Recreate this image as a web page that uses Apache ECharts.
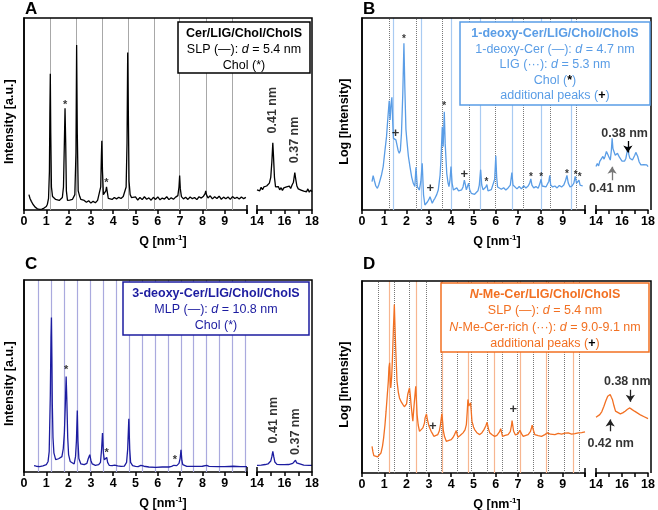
<!DOCTYPE html>
<html><head><meta charset="utf-8">
<script src="https://cdn.jsdelivr.net/npm/echarts/dist/echarts.min.js"></script>
<style>html,body{margin:0;padding:0;background:#fff}#c{width:658px;height:510px}</style>
</head><body><div id="c"></div><script>
const FONT = 'Liberation Sans, Arial, sans-serif';
const mainTicks = [0,1,2,3,4,5,6,7,8,9];
const insetTicks = [14,16,18];

// ---------- Panel A ----------
const traceA = [[0.22,8],[0.27,6],[0.33,4.5],[0.4,3],[0.5,1.5],[0.6,0.6],[0.7,0.3],[0.8,0.5],[0.9,1],[1.0,1.8],[1.05,3],[1.1,6],[1.14,20],[1.16,50],[1.18,71],[1.2,40],[1.23,12],[1.28,7],[1.35,6.5],[1.42,5.5],[1.5,6.2],[1.58,5],[1.65,5.5],[1.72,6.5],[1.77,12],[1.81,35],[1.84,53],[1.87,35],[1.9,10],[1.95,5],[2.0,4],[2.05,5.2],[2.1,4.2],[2.17,5.5],[2.22,6],[2.28,8],[2.33,30],[2.36,86],[2.39,40],[2.43,10],[2.5,7],[2.55,5.5],[2.6,4.5],[2.7,5],[2.8,4],[2.9,4.8],[3.0,3.6],[3.1,4.5],[3.2,3.8],[3.3,5],[3.38,6],[3.44,12],[3.47,28],[3.49,36],[3.52,20],[3.56,8],[3.62,8],[3.67,10],[3.7,12],[3.74,9],[3.78,6],[3.85,5],[3.95,5.5],[4.05,6.5],[4.15,5.8],[4.25,6.6],[4.35,6],[4.45,7],[4.52,8],[4.58,12],[4.62,35],[4.65,82],[4.68,50],[4.71,15],[4.76,8],[4.82,6.5],[4.9,5.5],[5.0,6.8],[5.1,5.2],[5.2,6.5],[5.3,5.4],[5.4,6.9],[5.5,5.6],[5.6,6.3],[5.7,5.1],[5.8,6.6],[5.9,5.5],[6.0,6.8],[6.1,5.3],[6.2,6.2],[6.3,5.7],[6.4,6.9],[6.5,5.4],[6.6,6.4],[6.7,5.6],[6.8,6.7],[6.9,7.5],[6.95,12],[6.98,18],[7.01,11],[7.06,7],[7.15,5.8],[7.25,6.6],[7.35,5.5],[7.45,6.8],[7.55,5.9],[7.65,6.5],[7.75,5.4],[7.85,6.9],[7.95,6.2],[8.05,7.2],[8.12,8.5],[8.15,10],[8.18,8],[8.25,6.3],[8.35,7.4],[8.45,5.8],[8.55,6.9],[8.65,6],[8.75,7.2],[8.85,5.6],[8.95,6.7],[9.05,5.9],[9.15,6.8],[9.25,5.5],[9.35,7],[9.45,6],[9.55,6.6],[9.65,5.7],[9.75,6.8],[9.85,5.9],[9.95,6.6]];
const insetA = [[14,10.5],[14.1,11.5],[14.2,10],[14.3,11.8],[14.4,10.6],[14.5,12],[14.6,11],[14.7,12.5],[14.8,12],[14.9,14],[15.0,17],[15.08,25],[15.15,35],[15.2,28],[15.27,17],[15.35,12],[15.45,11],[15.55,12.2],[15.65,10.5],[15.75,11.6],[15.85,10.2],[15.95,11.5],[16.05,10.8],[16.15,12],[16.25,11],[16.35,12.4],[16.45,11.2],[16.55,13],[16.65,14.5],[16.75,19.5],[16.82,16],[16.9,12.5],[17.0,11],[17.1,12],[17.2,10.4],[17.3,11.4],[17.4,9.8],[17.5,10.8],[17.6,9.5],[17.7,11],[17.8,9.3],[17.9,10.4],[18.0,9.5]];
const slpLinesA = [1.17,2.34,3.49,4.66,5.82,6.98,8.16,9.33];
const starsA = [[1.84,56],[3.70,15]];
const rotLabelsA = [[15.13,52,'0.41 nm'],[16.75,36.5,'0.37 nm']];

// ---------- Panel B ----------
const traceB = [[0.45,14.8],[0.5,17.9],[0.55,15.5],[0.62,12.5],[0.69,11.3],[0.75,13],[0.8,15.1],[0.88,18.5],[0.95,22.6],[1.02,30],[1.1,38.2],[1.16,48],[1.22,56.9],[1.26,46.9],[1.3,55],[1.34,58.7],[1.38,45],[1.41,37.3],[1.47,38.2],[1.52,36.5],[1.56,35.6],[1.62,31],[1.67,29.5],[1.72,31],[1.77,40],[1.83,60.8],[1.88,86.8],[1.92,64.2],[1.97,42],[2.01,36.5],[2.08,28],[2.15,22.6],[2.23,17],[2.3,13.9],[2.37,12.2],[2.42,22.2],[2.48,12.2],[2.57,10.4],[2.64,15],[2.7,24.3],[2.76,7.8],[2.82,2.6],[2.88,3.5],[2.94,4.3],[3.0,5.5],[3.05,6.9],[3.1,5.2],[3.15,3.5],[3.21,5],[3.27,6.1],[3.35,8],[3.42,10.4],[3.5,18],[3.54,26],[3.6,43.4],[3.64,33],[3.69,51.2],[3.73,34.7],[3.8,19.1],[3.86,14],[3.9,12.2],[3.95,16],[3.99,22.6],[4.04,14],[4.1,10.4],[4.18,9.5],[4.25,11.5],[4.33,10],[4.4,11],[4.47,10.5],[4.53,12],[4.59,15.6],[4.63,13.5],[4.68,10.5],[4.73,11.5],[4.78,14],[4.83,10.5],[4.9,8.7],[4.98,9.5],[5.05,8.2],[5.13,9],[5.2,10],[5.26,13],[5.32,21],[5.37,13],[5.43,10.5],[5.5,10],[5.55,12],[5.6,13.2],[5.65,10],[5.73,9.5],[5.8,10.6],[5.88,11.2],[5.95,16],[6.0,28.3],[6.04,17],[6.08,12],[6.15,11.3],[6.25,10.8],[6.35,11.6],[6.45,10.4],[6.55,11.5],[6.65,13],[6.72,19.5],[6.77,13],[6.85,12],[6.95,11],[7.05,12.2],[7.15,11],[7.25,12.6],[7.35,11.5],[7.45,12.5],[7.52,14],[7.57,16.2],[7.62,13],[7.7,11.5],[7.8,12.2],[7.9,11.3],[7.97,13.5],[8.03,16],[8.08,12.5],[8.15,11.5],[8.25,12],[8.32,12.5],[8.38,15],[8.42,18],[8.46,13],[8.55,12],[8.65,12.5],[8.75,11.5],[8.85,12.8],[8.95,12],[9.05,13],[9.13,15.5],[9.19,18],[9.25,14],[9.33,12],[9.42,12.5],[9.5,14],[9.56,17.5],[9.62,14],[9.68,13],[9.73,15.5],[9.78,13],[9.85,12],[9.9,12.5]];
const insetB = [[14,22.6],[14.1,24.2],[14.2,23],[14.29,25.3],[14.4,24.5],[14.53,27.9],[14.62,26.5],[14.7,28],[14.8,30.5],[14.9,29],[15.0,27.5],[15.1,26],[15.18,31],[15.24,37.3],[15.3,32],[15.38,30.5],[15.48,28.5],[15.58,28.5],[15.65,29.5],[15.72,29],[15.8,27.5],[15.9,26.5],[16.0,25.5],[16.1,25],[16.2,25.5],[16.3,27],[16.38,30],[16.45,33],[16.52,29],[16.6,27],[16.7,26.5],[16.8,26],[16.9,27],[16.98,28.5],[17.06,30],[17.12,30.4],[17.2,28],[17.32,25],[17.45,23.5],[17.55,24],[17.68,23.6],[17.8,23],[17.9,23.5],[18,22.6]];
const deoxyLinesB = [1.38,2.64,4.0,5.32,6.74,8.06,9.39];
const ligLinesB = [1.22,2.42,3.6,4.8,5.98,7.23,8.42,9.61];
const starsB = [[1.88,90],[3.69,55],[5.58,15.7],[7.58,18],[8.04,18],[9.19,19.6],[9.58,19.3],[9.76,17.9]];
const plusB = [[1.5,40],[3.06,11],[4.59,18.5]];

// ---------- Panel C ----------
const traceC = [[0.45,3.3],[0.55,3.0],[0.7,2.8],[0.85,3.2],[1.0,3.8],[1.08,5.5],[1.13,10.7],[1.18,40],[1.21,70],[1.23,80.4],[1.25,60],[1.27,35],[1.3,18],[1.34,10],[1.42,6.4],[1.5,7],[1.55,6.9],[1.62,6.4],[1.7,8],[1.76,12],[1.81,20.3],[1.85,34],[1.89,49.7],[1.92,38],[1.96,18],[2.0,9],[2.07,5.5],[2.15,4.5],[2.25,4.2],[2.31,8],[2.35,16],[2.39,32],[2.42,16],[2.46,7],[2.55,4.2],[2.7,3.8],[2.82,4.5],[2.88,6.9],[2.95,9],[3.0,6],[3.06,4.2],[3.2,3.5],[3.35,3.8],[3.43,5],[3.48,12],[3.52,20.3],[3.56,10],[3.6,6.4],[3.65,6.5],[3.71,7.6],[3.75,5],[3.82,3.5],[3.95,3.3],[4.07,3.6],[4.13,4.3],[4.2,3.2],[4.35,2.9],[4.5,3.1],[4.6,5],[4.65,12],[4.7,27.7],[4.74,12],[4.78,5],[4.87,3.3],[5.0,2.9],[5.12,2.8],[5.24,3.4],[5.3,4.2],[5.38,3.0],[5.6,2.6],[5.9,2.4],[6.2,2.6],[6.5,2.6],[6.62,2.9],[6.72,3.5],[6.77,3.6],[6.85,3.3],[6.95,4.5],[7.0,7],[7.04,11.6],[7.08,6],[7.12,3.8],[7.3,2.9],[7.6,2.9],[8.0,3.0],[8.19,3.4],[8.3,2.9],[8.7,2.8],[9.0,2.8],[9.39,3.0],[9.7,2.8],[10,2.8]];
const insetC = [[14,3.5],[14.3,3.6],[14.6,3.9],[14.8,4.2],[15.0,5.7],[15.08,8],[15.15,10.7],[15.22,8],[15.3,5.2],[15.45,4],[15.7,3.8],[16.0,3.8],[16.3,3.9],[16.6,4.5],[16.72,5.5],[16.8,6.1],[16.88,4.8],[17.0,3.9],[17.4,3.6],[17.8,3.5],[18,3.5]];
const mlpLinesC = [0.63,1.23,1.81,2.39,2.97,3.55,4.13,4.71,5.29,5.87,6.45,7.03,7.61,8.19,8.77,9.35,9.93];
const starsC = [[1.89,54],[3.71,11],[6.77,7.5]];
const rotLabelsC = [[15.2,27,'0.41 nm'],[16.8,21,'0.37 nm']];

// ---------- Panel D ----------
const traceD = [[0.45,13.9],[0.49,11],[0.53,9],[0.6,8.7],[0.7,8.4],[0.78,9],[0.85,10.4],[0.92,14],[0.97,18.3],[1.03,25],[1.08,32.2],[1.13,40],[1.18,47.8],[1.21,55],[1.24,57.4],[1.27,48],[1.29,44.3],[1.33,50],[1.36,58],[1.41,75.7],[1.45,87.8],[1.48,76],[1.51,65.2],[1.57,47.8],[1.63,42],[1.68,39.1],[1.76,37],[1.83,35.7],[1.9,34.5],[1.95,33.9],[2.0,36],[2.05,40.9],[2.13,44.3],[2.17,40],[2.2,35.7],[2.25,30],[2.28,27],[2.32,33],[2.35,37.4],[2.41,45.2],[2.44,38],[2.47,30.4],[2.52,25],[2.58,21.7],[2.65,22.5],[2.73,23.5],[2.8,26],[2.83,28.7],[2.89,30.8],[2.93,28],[2.95,27],[3.0,24.5],[3.03,23.5],[3.1,21.7],[3.16,20.5],[3.22,19.1],[3.3,19.6],[3.4,20],[3.47,22],[3.52,25.2],[3.58,30.8],[3.62,26],[3.64,22.6],[3.7,19],[3.78,16.5],[3.9,17],[4.0,17.4],[4.08,18.5],[4.15,20],[4.23,22.1],[4.27,20],[4.3,18.6],[4.4,19.5],[4.53,20.9],[4.62,22.5],[4.68,25.2],[4.72,32],[4.75,38.3],[4.79,35],[4.81,34.8],[4.87,36.5],[4.9,32],[4.93,27],[5.0,24],[5.05,22.6],[5.15,21],[5.28,20],[5.38,21],[5.47,22.6],[5.55,24.5],[5.61,26.4],[5.67,23],[5.73,20.9],[5.85,19.8],[5.95,19.1],[6.05,19.6],[6.1,20],[6.17,21.5],[6.22,23.1],[6.26,21],[6.3,19.1],[6.42,19.6],[6.55,20],[6.65,21.5],[6.7,24.5],[6.73,27.3],[6.77,24],[6.8,21.7],[6.88,19.8],[6.93,19.1],[7.0,20.5],[7.08,22.3],[7.15,20.5],[7.23,19.1],[7.35,19.6],[7.45,20],[7.55,21.5],[7.6,23.5],[7.63,24.9],[7.68,22.5],[7.75,20],[7.9,19.5],[8.05,19.1],[8.2,20],[8.32,20.9],[8.45,20.2],[8.65,20],[8.8,20.6],[8.95,20.3],[9.1,20.8],[9.25,20.9],[9.4,20.3],[9.55,20.5],[9.7,20.9],[9.85,21],[10,21.4]];
const insetD = [[14,29],[14.15,29.5],[14.29,30.4],[14.45,32],[14.61,34.8],[14.75,37.5],[14.9,40],[15.0,40.9],[15.09,40.9],[15.18,39.5],[15.26,38.3],[15.38,35],[15.5,32.2],[15.65,31.3],[15.87,30.8],[16.05,31.3],[16.24,32.2],[16.42,33.2],[16.6,33.9],[16.78,33],[16.96,32.2],[17.2,31.2],[17.45,30.1],[17.7,29.3],[18,28.3]];
const slpLinesD = [1.23,2.43,3.6,4.77,5.93,7.1,8.28,9.47];
const richLinesD = [0.73,1.45,2.13,2.87,3.56,4.27,4.92,5.62,6.3,6.98,7.67,8.36,9.05,9.74];
const plusD = [[3.17,24.5],[6.78,33]];

// ---------- layout ----------
const P = [
  {letter:'A', lx:25, ly:9, main:{left:24,top:18,width:223,height:192}, inset:{left:257,width:55}, ytitle:'Intensity [a.u.]', ytx:10, qx:163},
  {letter:'B', lx:363, ly:9, main:{left:362,top:18,width:223,height:192}, inset:{left:596,width:55}, ytitle:'Log [Intensity]', ytx:345, qx:497},
  {letter:'C', lx:25, ly:264, main:{left:24,top:280,width:223,height:192}, inset:{left:257,width:55}, ytitle:'Intensity [a.u.]', ytx:10, qx:163},
  {letter:'D', lx:363, ly:264, main:{left:362,top:281,width:223,height:192}, inset:{left:596,width:55}, ytitle:'Log [Intensity]', ytx:345, qx:497}
];

const grid=[], xAxis=[], yAxis=[], series=[], graphic=[];
P.forEach((p,i)=>{
  const gm=i*2, gi=i*2+1;
  grid.push({left:p.main.left, top:p.main.top, width:p.main.width, height:p.main.height});
  grid.push({left:p.inset.left, top:p.main.top, width:p.inset.width, height:p.main.height});
  const axLine={lineStyle:{color:'#000',width:1.5}};
  const tick={length:4,lineStyle:{color:'#000',width:1.5}};
  const lab=(arr)=>({formatter:v=>arr.includes(v)?String(v):'', color:'#000', fontWeight:'bold', fontSize:12.5, fontFamily:FONT, margin:5, showMinLabel:true, showMaxLabel:true});
  xAxis.push({gridIndex:gm,type:'value',min:0,max:10,interval:1,axisLine:axLine,axisTick:tick,axisLabel:lab(mainTicks),splitLine:{show:false}});
  xAxis.push({gridIndex:gi,type:'value',min:14,max:18,interval:1,axisLine:axLine,axisTick:tick,axisLabel:lab(insetTicks),splitLine:{show:false}});
  yAxis.push({gridIndex:gm,type:'value',min:0,max:100,axisLine:{show:true,lineStyle:{color:'#000',width:1.5}},axisTick:{show:false},axisLabel:{show:false},splitLine:{show:false}});
  yAxis.push({gridIndex:gi,type:'value',min:0,max:100,show:false});
  const b=p.main.top+p.main.height, t=p.main.top, l=p.main.left, r=p.inset.left+p.inset.width, e=p.main.left+p.main.width;
  graphic.push({type:'polyline',shape:{points:[[l,b],[l,t],[r,t],[r,b]]},style:{stroke:'#000',lineWidth:1.5,fill:null},z:50});
  graphic.push({type:'line',shape:{x1:e,y1:b-5,x2:e,y2:b+4},style:{stroke:'#000',lineWidth:1.5},z:50});
  graphic.push({type:'line',shape:{x1:p.inset.left,y1:b-5,x2:p.inset.left,y2:b+4},style:{stroke:'#000',lineWidth:1.5},z:50});
  graphic.push({type:'text',x:p.lx,y:p.ly,style:{text:p.letter,fill:'#000',font:'bold 17px '+FONT,align:'left',verticalAlign:'middle'},z:50});
  graphic.push({type:'text',x:p.ytx,y:t+p.main.height*0.54,rotation:Math.PI/2,style:{text:p.ytitle,fill:'#000',font:'bold 12.5px '+FONT,align:'center',verticalAlign:'middle'},z:50});
  graphic.push({type:'text',x:p.qx,y:b+32,style:{text:'Q [nm{s|-1}]',fill:'#000',font:'bold 12.5px '+FONT,align:'center',verticalAlign:'middle',rich:{s:{fontSize:8,fontWeight:'bold',fontFamily:FONT,fill:'#000',padding:[0,0,8,0]}}},z:50});
});

function refLines(g, list){
  series.push({type:'line',xAxisIndex:g,yAxisIndex:g,data:[],z:1,animation:false,silent:true,
    markLine:{z:1,silent:true,symbol:['none','none'],label:{show:false},animation:false,
      data:list.map(o=>({xAxis:o.q,lineStyle:o.style}))}});
}
function trace(g,data,color){
  series.push({type:'line',xAxisIndex:g,yAxisIndex:g,data:data,showSymbol:false,symbol:'none',z:3,animation:false,
    lineStyle:{color:color,width:1.3}});
}
function marks(g,data,ch,size,dy){
  series.push({type:'scatter',xAxisIndex:g,yAxisIndex:g,symbolSize:1,itemStyle:{color:'rgba(0,0,0,0)'},z:4,animation:false,silent:true,
    data:data.map(d=>({value:[d[0],d[1]],name:ch})),
    label:{show:true,position:'inside',offset:[0,dy],formatter:pp=>pp.name,color:'#000',fontSize:size,fontWeight:'bold',fontFamily:FONT}});
}
function rotLabels(g,data){
  series.push({type:'scatter',xAxisIndex:g,yAxisIndex:g,symbolSize:1,itemStyle:{color:'rgba(0,0,0,0)'},z:4,animation:false,silent:true,
    data:data.map(d=>({value:[d[0],d[1]],name:d[2]})),
    label:{show:true,position:'inside',rotate:90,formatter:pp=>pp.name,color:'#000',fontSize:12.5,fontWeight:'bold',fontFamily:FONT}});
}
function hLabels(g,data){
  series.push({type:'scatter',xAxisIndex:g,yAxisIndex:g,symbolSize:1,itemStyle:{color:'rgba(0,0,0,0)'},z:4,animation:false,silent:true,
    data:data.map(d=>({value:[d[0],d[1]],name:d[2]})),
    label:{show:true,position:'inside',formatter:pp=>pp.name,color:'#000',fontSize:12.5,fontWeight:'bold',fontFamily:FONT}});
}
function arrows(g,data,color){
  series.push({type:'lines',coordinateSystem:'cartesian2d',xAxisIndex:g,yAxisIndex:g,z:4,animation:false,silent:true,
    symbol:['none','arrow'],symbolSize:7,
    lineStyle:{color:color,width:1.3,opacity:1},
    data:data.map(d=>({coords:[[d[0],d[1]],[d[0],d[2]]]}))});
}

// A
refLines(0, slpLinesA.map(q=>({q,style:{color:'#a8a8a8',width:1,type:'solid'}})));
trace(0,traceA,'#000'); trace(1,insetA,'#000');
marks(0,starsA,'*',11,2); rotLabels(1,rotLabelsA);
// B
const cB='#5a9de6';
refLines(2, deoxyLinesB.map(q=>({q,style:{color:'#a9cbf2',width:1.2,type:'solid'}})).concat(ligLinesB.map(q=>({q,style:{color:'#777',width:1,type:'dotted'}}))));
trace(2,traceB,cB); trace(3,insetB,cB);
marks(2,starsB,'*',10,2); marks(2,plusB,'+',13,0);
hLabels(3,[[16.2,40,'0.38 nm'],[15.26,11,'0.41 nm']]);
arrows(3,[[16.45,36,30]],'#000'); arrows(3,[[15.24,15.5,22.5]],'#777');
// C
const cC='#1c1ca0';
refLines(4, mlpLinesC.map(q=>({q,style:{color:'#aaaade',width:1.2,type:'solid'}})));
trace(4,traceC,cC); trace(5,insetC,cC);
marks(4,starsC,'*',11,2); rotLabels(5,rotLabelsC);
// D
const cD='#f27022';
refLines(6, slpLinesD.map(q=>({q,style:{color:'#f7b690',width:1.2,type:'solid'}})).concat(richLinesD.map(q=>({q,style:{color:'#777',width:1,type:'dotted'}}))));
trace(6,traceD,cD); trace(7,insetD,cD);
marks(6,plusD,'+',13,0);
hLabels(7,[[16.4,47.7,'0.38 nm'],[15.13,15.6,'0.42 nm']]);
arrows(7,[[16.64,43.4,37.1]],'#222'); arrows(7,[[15.09,21.8,27.8]],'#222');

// legend boxes
function box(x,y,w,h,color,lines,lh){
  graphic.push({type:'rect',z:100,shape:{x:x,y:y,width:w,height:h},style:{fill:'#fff',stroke:color,lineWidth:1.5}});
  const cx=x+w/2;
  lines.forEach((ln,k)=>{
    graphic.push({type:'text',z:101,x:cx,y:y+11.5+k*lh,style:{text:ln.t,fill:color,font:(ln.b?'bold ':'')+'12.5px '+FONT,align:'center',verticalAlign:'middle',
      rich:{i:{fontStyle:'italic',fontWeight:ln.b?'bold':'normal',fontSize:12.5,fontFamily:FONT,fill:color},
            k:{fill:'#000',fontWeight:'bold',fontSize:12.5,fontFamily:FONT}}}});
  });
}
box(178,22,132,51,'#000',[{t:'Cer/LIG/Chol/CholS',b:1},{t:'SLP (—): {i|d} = 5.4 nm'},{t:'Chol (*)'}],16);
box(460,22,190,83,cB,[{t:'1-deoxy-Cer/LIG/Chol/CholS',b:1},{t:'1-deoxy-Cer (—): {i|d} = 4.7 nm'},{t:'LIG (···): {i|d} = 5.3 nm'},{t:'Chol ({k|*})'},{t:'additional peaks ({k|+})'}],15.6);
box(123,282,186,53,cC,[{t:'3-deoxy-Cer/LIG/Chol/CholS',b:1},{t:'MLP (—): {i|d} = 10.8 nm'},{t:'Chol (*)'}],16);
box(441,283,208,69,cD,[{t:'{i|N}-Me-Cer/LIG/Chol/CholS',b:1},{t:'SLP (—): {i|d} = 5.4 nm'},{t:'{i|N}-Me-Cer-rich (···): {i|d} = 9.0-9.1 nm'},{t:'additional peaks ({k|+})'}],16.4);

const chart=echarts.init(document.getElementById('c'),null,{renderer:'canvas'});
chart.setOption({animation:false,backgroundColor:'#fff',textStyle:{fontFamily:FONT},grid,xAxis,yAxis,series,graphic});
</script></body></html>
